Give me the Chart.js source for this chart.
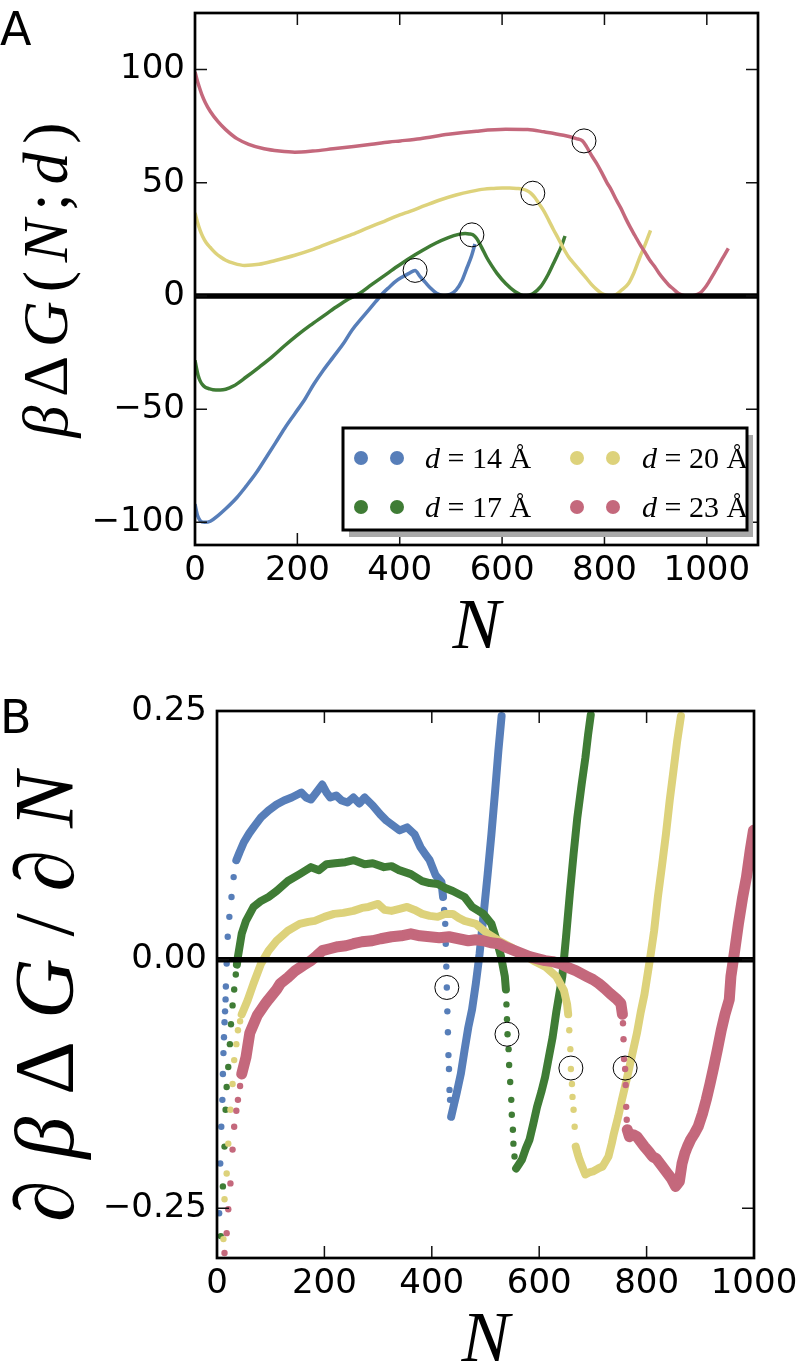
<!DOCTYPE html>
<html><head><meta charset="utf-8">
<script src="https://cdn.jsdelivr.net/npm/chart.js@4.4.0/dist/chart.umd.min.js"></script>
<style>
html,body{margin:0;padding:0;background:#fff;}
#wrap{position:relative;width:804px;height:1364px;overflow:hidden;background:#fff;}
canvas{position:absolute;left:0;}
#cA{top:0;} #cB{top:650px;}
</style></head><body>
<div id="wrap"><canvas id="cA" width="804" height="650"></canvas><canvas id="cB" width="804" height="714"></canvas></div>
<script>
// ---------- Panel A data: free energy curves ----------
const aN14 = [0,5,10,19,30,45,60,82,100,120,140,157,175,195,215,232,250,270,290,307,325,340,355,367,380,392,405,418,430,440,450,460,472,487,498,510,522,532,540,547];
const aG14 = [-92,-97,-99.2,-100,-99.5,-97,-94,-89,-84,-78,-71,-65,-58.5,-52,-45.5,-39,-33,-27,-21,-15,-10,-6,-2,1.2,4,6.5,8.4,10,11.3,8.5,6,3.5,1.2,0,0.7,2.6,7,12.8,17.5,23];
const aN17 = [0,3,6,10,15,20,28,35,49,60,75,100,125,150,175,200,225,250,275,300,322,345,370,395,420,445,470,495,515,528,536,543,550,560,570,580,590,607,625,644,660,675,690,700,708,715,723];
const aG17 = [-28.4,-32,-35,-37.5,-39.3,-40.3,-41,-41.4,-41.5,-41.2,-39.8,-35.8,-31.5,-27,-22,-17.3,-13,-9,-5,-1.3,1.2,5,9,13,16.8,20.2,23.3,25.8,27.2,27.6,27.4,27,25.5,21.5,17,13.3,10,5.5,2,0,1,4,9.5,14.2,18,21.5,26.5];
const aN20 = [0,5,10,15,22,30,40,50,60,75,97,125,157,195,232,270,307,340,370,400,420,450,480,510,540,565,584,600,615,629,640,648,656,664,672,682,691,700,710,719,730,738,748,757,766,775,785,794,803,813,823,833,847,858,869,880,890];
const aG20 = [36.7,32.5,29,26.3,23.5,21.4,19,17.2,15.8,14.5,13.5,14,15.7,18,20.7,24,27.2,30.3,33,35.8,37.4,40,42.5,44.6,46.2,47.2,47.5,47.7,47.7,47.5,47.2,46.6,45.4,43.5,40.8,37.4,33.5,29.5,25.3,21.4,17.2,15,12.3,9.9,7.5,5,2.8,1.2,0.3,0,0.6,2.5,5.5,10.5,17,23,29];
const aN23 = [0,4,8,13,20,30,45,60,82,105,135,165,195,230,270,310,345,380,401,440,495,550,607,650,682,720,745,757,765,775,785,794,805,813,823,832,841,850,860,869,880,888,898,907,916,925,935,944,952,960,970,978,988,996,1004,1014,1024,1033,1042];
const aG23 = [99,95.5,92.5,89.2,85.5,81.5,77,73.5,69.5,67,65,64,63.5,64,65,66,67,68,68.5,69.5,71.4,72.8,73.6,73.5,72.5,71,69.5,68.5,66,62,58.5,54.8,50,47,42.5,38.8,34.5,30.5,26.5,22.9,19,16,13,9.9,7.3,5,3,1.2,0.4,0,0,0.4,1.5,3.5,6.2,10,14,17.5,21];
const aCircN = [430,541,660,760];
const aCircG = [11.3,27,45.4,68.5];
const aXTicks = [0,200,400,600,800,1000];
const aYTicks = [-100,-50,0,50,100];

// ---------- Panel B data: derivative ----------
const bN14 = [4,6,8,10,11,12,13,14,15,16,16.5,18,20,23,27,31,36,42,50,60,68,82,96,111,125,139,150,157,166,175,185,196,204,211,222,232,243,254,265,275,290,304,315,325,340,354,368,379,388,396,407,418,421,423,425,426,427,428,429,430,431,432,433,434,436,439,446,454,461,468,475,482,489,496,504,511,518,524,530];
const bD14 = [-0.255,-0.205,-0.168,-0.141,-0.115,-0.094,-0.078,-0.063,-0.052,-0.040,-0.027,-0.004,0.023,0.043,0.063,0.083,0.100,0.108,0.118,0.127,0.133,0.143,0.150,0.156,0.160,0.163,0.166,0.168,0.163,0.161,0.168,0.176,0.168,0.163,0.165,0.160,0.158,0.163,0.157,0.163,0.155,0.146,0.140,0.136,0.130,0.133,0.126,0.113,0.106,0.100,0.085,0.078,0.063,0.050,0.036,0.016,-0.007,-0.028,-0.052,-0.073,-0.096,-0.110,-0.131,-0.141,-0.158,-0.151,-0.135,-0.115,-0.091,-0.068,-0.050,-0.024,0.006,0.043,0.086,0.126,0.170,0.210,0.245];
const bN17 = [7,11,14,16,18,21,24,26,29,32,35,37,39,46,54,68,82,96,111,132,154,175,190,204,220,239,255,275,290,311,325,339,361,382,396,411,425,439,461,475,496,511,521,529,536,538,539,540,541,543,544,546,548,549,551,552,554,557,562,568,575,582,589,596,604,611,618,625,632,643,650,657,664,671,679,686,691,696];
const bD17 = [-0.278,-0.228,-0.188,-0.151,-0.128,-0.108,-0.085,-0.065,-0.046,-0.030,-0.015,-0.005,0.003,0.026,0.039,0.053,0.059,0.063,0.069,0.079,0.086,0.093,0.090,0.096,0.097,0.098,0.100,0.096,0.097,0.093,0.094,0.090,0.086,0.079,0.077,0.076,0.072,0.069,0.063,0.053,0.046,0.036,0.019,0.003,-0.017,-0.030,-0.045,-0.060,-0.075,-0.090,-0.106,-0.123,-0.141,-0.156,-0.171,-0.185,-0.198,-0.210,-0.206,-0.201,-0.190,-0.181,-0.165,-0.148,-0.133,-0.118,-0.098,-0.078,-0.052,-0.017,0.023,0.066,0.106,0.143,0.176,0.203,0.226,0.246];
const bN20 = [12,14,18,21,25,29,32,36,39,43,46,50,57,68,82,96,111,132,154,170,182,200,218,235,254,270,282,300,312,325,340,354,368,382,396,411,425,439,450,461,482,504,525,546,568,589,611,632,646,652,654,656,658,659,661,662,664,666,668,672,675,680,686,693,700,710,718,729,735,739,747,754,761,768,775,782,789,796,800,807,814,821,829,836,843,850,857,864];
const bD20 = [-0.281,-0.241,-0.215,-0.185,-0.151,-0.125,-0.101,-0.085,-0.071,-0.062,-0.055,-0.050,-0.041,-0.024,-0.004,0.009,0.019,0.029,0.036,0.038,0.039,0.043,0.046,0.047,0.049,0.052,0.053,0.056,0.050,0.049,0.051,0.053,0.050,0.046,0.044,0.043,0.046,0.046,0.042,0.039,0.036,0.026,0.019,0.013,0.006,-0.001,-0.007,-0.017,-0.031,-0.045,-0.055,-0.071,-0.090,-0.110,-0.125,-0.138,-0.151,-0.168,-0.188,-0.196,-0.201,-0.208,-0.216,-0.214,-0.213,-0.210,-0.208,-0.198,-0.185,-0.175,-0.158,-0.141,-0.125,-0.108,-0.091,-0.074,-0.053,-0.035,-0.021,0.003,0.029,0.063,0.096,0.126,0.160,0.190,0.220,0.245];
const bN23 = [14,18,21,25,29,32,36,39,43,46,54,61,75,89,96,111,118,132,146,160,175,186,196,210,225,240,254,270,289,305,325,343,361,378,396,414,432,450,468,482,496,510,525,540,554,568,582,596,611,625,639,654,668,689,700,711,722,732,743,752,755,756,757,758,760,761,762,763,764,768,775,782,789,796,804,811,818,825,832,839,846,854,857,861,866,871,876,882,889,896,904,911,918,925,932,939,946,954,957,964,971,979,986,993,999];
const bD23 = [-0.295,-0.275,-0.251,-0.225,-0.191,-0.168,-0.152,-0.141,-0.127,-0.115,-0.098,-0.074,-0.056,-0.045,-0.040,-0.030,-0.024,-0.018,-0.011,-0.006,-0.001,0.004,0.009,0.011,0.013,0.014,0.016,0.018,0.019,0.021,0.023,0.024,0.026,0.024,0.023,0.022,0.023,0.021,0.019,0.020,0.019,0.017,0.016,0.012,0.009,0.006,0.003,0.001,-0.001,-0.002,-0.004,-0.008,-0.011,-0.017,-0.020,-0.024,-0.029,-0.034,-0.039,-0.044,-0.055,-0.064,-0.080,-0.100,-0.110,-0.126,-0.148,-0.161,-0.171,-0.178,-0.176,-0.178,-0.183,-0.188,-0.193,-0.198,-0.200,-0.205,-0.210,-0.215,-0.220,-0.228,-0.226,-0.223,-0.205,-0.195,-0.188,-0.181,-0.175,-0.168,-0.155,-0.141,-0.125,-0.108,-0.090,-0.071,-0.055,-0.040,-0.017,0.009,0.036,0.063,0.083,0.110,0.130];
// N ranges where the derivative points are isolated dots (no continuous band)
const bSparse14 = [[0,36],[420,437]];
const bSparse17 = [[0,37],[537,558]];
const bSparse20 = [[0,47],[653,669]];
const bSparse23 = [[0,47],[753,765]];
const bCircN = [428,540,659,760];
const bCircD = [-0.028,-0.075,-0.109,-0.109];
const bXTicks = [0,200,400,600,800,1000];
const bYTicks = [-0.25,0,0.25];

const labels = ['d = 14 Å','d = 17 Å','d = 20 Å','d = 23 Å'];
const COLORS = ['#577eb9','#3f7c35','#ddd27b','#c4687c'];

// ---------- helpers ----------
const xy = (ns, vs) => ns.map((n,i)=>({x:n,y:vs[i]}));
const minus = s => s.replace('-', '\u2212');
const TICKFONT = {family:"'DejaVu Sans', sans-serif", size:34};

function drawRuns(ctx, runs, cx, cy, size, rotate, target){
  ctx.save();
  const w = runs.map(r=>{ctx.font=r.f; return ctx.measureText(r.t).width;});
  const sum = w.reduce((a,b)=>a+b,0);
  const gap = target ? (target-sum)/(runs.length-1) : 0;
  const total = sum + gap*(runs.length-1);
  ctx.translate(cx, cy);
  if (rotate) ctx.rotate(-Math.PI/2);
  ctx.fillStyle='#000'; ctx.textAlign='left'; ctx.textBaseline='alphabetic';
  let x = -total/2;
  runs.forEach((r,i)=>{ctx.font=r.f; ctx.fillText(r.t, x, rotate ? size*0.3 : 0); x += w[i]+gap;});
  ctx.restore();
}
const IT = s => `italic ${s}px 'Liberation Serif', serif`;
const UP = s => `${s}px 'Liberation Serif', serif`;

function decorPlugin(id, drawText){
  return {
    id,
    afterDatasetsDraw(chart){
      const {ctx, chartArea:a} = chart; const xs = chart.scales.x, ys = chart.scales.y;
      ctx.save();
      const y0 = ys.getPixelForValue(0);
      ctx.strokeStyle='#000'; ctx.lineWidth=5.5;
      ctx.beginPath(); ctx.moveTo(a.left,y0); ctx.lineTo(a.right,y0); ctx.stroke();
      ctx.lineWidth=1.5; ctx.strokeStyle='#111'; ctx.beginPath();
      xs.ticks.forEach(t=>{const p=xs.getPixelForValue(t.value);
        ctx.moveTo(p,a.bottom); ctx.lineTo(p,a.bottom-12); ctx.moveTo(p,a.top); ctx.lineTo(p,a.top+12);});
      ys.ticks.forEach(t=>{const p=ys.getPixelForValue(t.value);
        ctx.moveTo(a.left,p); ctx.lineTo(a.left+12,p); ctx.moveTo(a.right,p); ctx.lineTo(a.right-12,p);});
      ctx.stroke();
      ctx.lineWidth=2.7; ctx.strokeStyle='#000';
      ctx.strokeRect(a.left,a.top,a.right-a.left,a.bottom-a.top);
      ctx.restore();
    },
    afterDraw(chart){ drawText(chart.ctx, chart); }
  };
}

function baseScales(xmin,xmax,ymin,ymax,xt,yt,yw,xh,yfmt){
  return {
    x:{type:'linear',min:xmin,max:xmax,
       afterFit:s=>{s.height=xh; s.paddingLeft=0; s.paddingRight=0;},
       afterBuildTicks:s=>{s.ticks=xt.map(v=>({value:v}));},
       ticks:{font:TICKFONT,color:'#000',padding:6,maxRotation:0,autoSkip:false,callback:v=>String(v)},
       grid:{display:false,drawTicks:false},border:{display:false}},
    y:{type:'linear',min:ymin,max:ymax,
       afterFit:s=>{s.width=yw; s.paddingTop=0; s.paddingBottom=0;},
       afterBuildTicks:s=>{s.ticks=yt.map(v=>({value:v}));},
       ticks:{font:TICKFONT,color:'#000',padding:10,autoSkip:false,callback:yfmt},
       grid:{display:false,drawTicks:false},border:{display:false}}
  };
}

// ---------- Chart A ----------
const aSeries = [[aN14,aG14],[aN17,aG17],[aN20,aG20],[aN23,aG23]];
const dsA = aSeries.map((s,i)=>({
  label: labels[i], data: xy(s[0],s[1]), showLine:true, borderColor:COLORS[i], borderWidth:3.5,
  pointRadius:0, cubicInterpolationMode:'monotone', fill:false, order:4-i, clip:0
}));
dsA.push({label:'marks', data: xy(aCircN,aCircG), showLine:false, pointRadius:12, pointBorderColor:'#000',
  pointBackgroundColor:'rgba(0,0,0,0)', pointBorderWidth:1, order:-1, clip:false});

function textA(ctx, chart){
  const a = chart.chartArea;
  ctx.save();
  ctx.fillStyle='#000'; ctx.font="46px 'DejaVu Sans', sans-serif"; ctx.textBaseline='alphabetic'; ctx.textAlign='left';
  ctx.fillText('A', 0, 45);
  ctx.restore();
  drawRuns(ctx, [{t:'β',f:IT(64)},{t:'Δ',f:UP(64)},{t:'G',f:IT(64)},{t:'(',f:UP(64)},{t:'N',f:IT(64)},{t:';',f:UP(64)},{t:'d',f:IT(64)},{t:')',f:UP(64)}],
    48, 280, 64, true, 315);
  drawRuns(ctx, [{t:'N',f:IT(72)}], (a.left+a.right)/2, 648, 72, false, 0);
  // legend
  ctx.save();
  ctx.fillStyle='#a9a9a9'; ctx.fillRect(349,435,404,102);
  ctx.fillStyle='#fff'; ctx.fillRect(343,428,404,102);
  ctx.lineWidth=3; ctx.strokeStyle='#000'; ctx.strokeRect(343,428,404,102);
  const cols=[[361,397,425],[577,613,642]], rows=[458,507];
  [0,1,2,3].forEach(i=>{
    const c=cols[Math.floor(i/2)], r=rows[i%2];
    ctx.fillStyle=COLORS[i];
    [c[0],c[1]].forEach(px=>{ctx.beginPath(); ctx.arc(px,r,7,0,Math.PI*2); ctx.fill();});
    ctx.fillStyle='#000'; ctx.textBaseline='alphabetic'; ctx.textAlign='left';
    ctx.font=IT(30); ctx.fillText('d', c[2], r+10);
    const wd = ctx.measureText('d').width;
    ctx.font=UP(30); ctx.fillText(labels[i].slice(1), c[2]+wd, r+10);
  });
  ctx.restore();
}

new Chart(document.getElementById('cA'), {
  type:'line',
  data:{datasets:dsA},
  options:{responsive:false, animation:false, devicePixelRatio:1, events:[],
    layout:{padding:{left:0,top:6,right:46,bottom:0}},
    plugins:{legend:{display:false},tooltip:{enabled:false}},
    scales: baseScales(0,1100,-110,125,aXTicks,aYTicks,195,105,v=>minus(String(v)))
  },
  plugins:[decorPlugin('decorA', textA)]
});

// ---------- Chart B ----------
const inRange = (n, rs) => rs.some(r=>n>=r[0] && n<=r[1]);
const bSeries = [[bN14,bD14,bSparse14],[bN17,bD17,bSparse17],[bN20,bD20,bSparse20],[bN23,bD23,bSparse23]];
const dsB = bSeries.map((s,i)=>({
  label: labels[i], data: xy(s[0],s[1]), showLine:true, borderColor:COLORS[i], borderWidth: i===3 ? 11 : 8,
  pointRadius: 3.2, pointBackgroundColor:COLORS[i], pointBorderWidth:0, tension:0, fill:false, order:4-i, clip:0,
  borderJoinStyle:'round', borderCapStyle:'round',
  segment:{borderColor: c => (inRange(s[0][c.p0DataIndex], s[2]) && inRange(s[0][c.p1DataIndex], s[2])) ? 'rgba(0,0,0,0)' : undefined}
}));
dsB.push({label:'marks', data: xy(bCircN,bCircD), showLine:false, pointRadius:12, pointBorderColor:'#000',
  pointBackgroundColor:'rgba(0,0,0,0)', pointBorderWidth:1, order:-1, clip:false});

function textB(ctx, chart){
  const a = chart.chartArea;
  ctx.save();
  ctx.fillStyle='#000'; ctx.font="46px 'DejaVu Sans', sans-serif"; ctx.textBaseline='alphabetic'; ctx.textAlign='left';
  ctx.fillText('B', 0, 83);
  ctx.restore();
  drawRuns(ctx, [{t:'∂',f:IT(84)},{t:'β',f:IT(84)},{t:'Δ',f:UP(84)},{t:'G',f:IT(84)},{t:'/',f:UP(84)},{t:'∂',f:IT(84)},{t:'N',f:IT(84)}],
    48, 347, 84, true, 450);
  drawRuns(ctx, [{t:'N',f:IT(72)}], (a.left+a.right)/2, 711, 72, false, 0);
}

new Chart(document.getElementById('cB'), {
  type:'line',
  data:{datasets:dsB},
  options:{responsive:false, animation:false, devicePixelRatio:1, events:[],
    layout:{padding:{left:0,top:61,right:50,bottom:0}},
    plugins:{legend:{display:false},tooltip:{enabled:false}},
    scales: baseScales(0,1000,-0.3,0.25,bXTicks,bYTicks,217,106,v=>minus(Number(v).toFixed(2)))
  },
  plugins:[decorPlugin('decorB', textB)]
});
</script>
</body></html>
